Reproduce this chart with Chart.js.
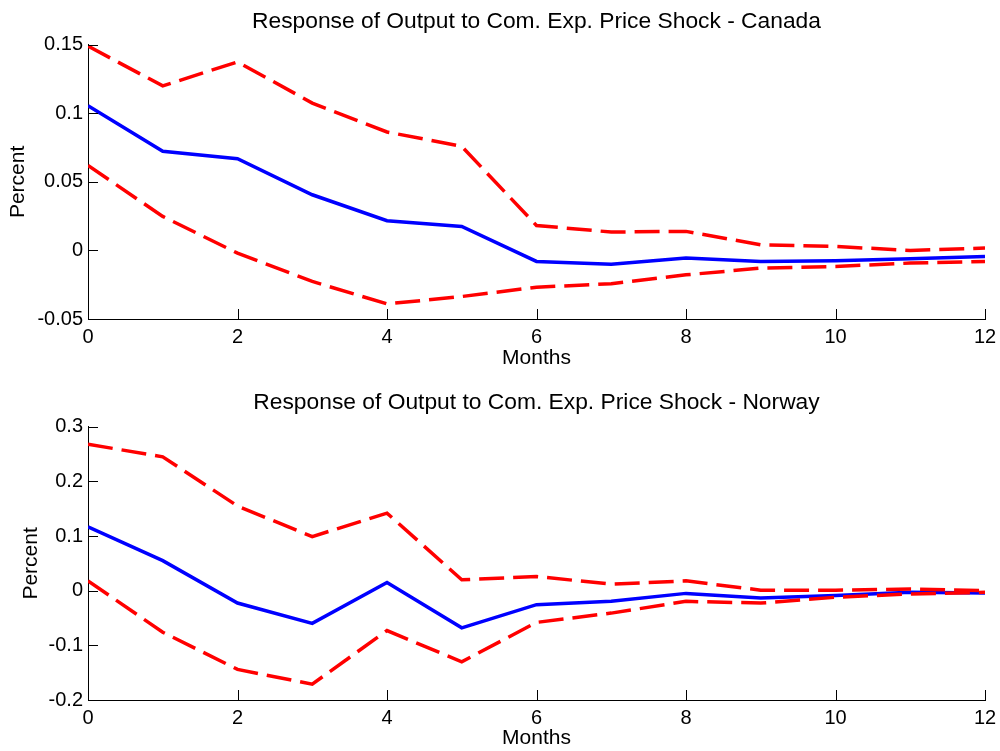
<!DOCTYPE html>
<html>
<head>
<meta charset="utf-8">
<script src="https://cdn.jsdelivr.net/npm/chart.js@4.4.1/dist/chart.umd.min.js"></script>
<style>
  html, body { margin: 0; padding: 0; background: #fff; }
  #wrap { position: relative; width: 1000px; height: 751px; }
  canvas { position: absolute; left: 0; }
</style>
</head>
<body>
<div id="wrap">
  <canvas id="canada" width="1000" height="375" style="top:0"></canvas>
  <canvas id="norway" width="1000" height="375" style="top:376px"></canvas>
</div>
<script>
// months after the shock
const months = [0, 1, 2, 3, 4, 5, 6, 7, 8, 9, 10, 11, 12];

// Canada: impulse response and bands
const canadaResp  = [0.1056, 0.0723, 0.0669, 0.0406, 0.0217, 0.0175, -0.0080, -0.0100, -0.0056, -0.0080, -0.0075, -0.0060, -0.0044];
const canadaUpper = [0.1490, 0.1200, 0.1375, 0.1075, 0.0864, 0.0759, 0.0182, 0.0134, 0.0139, 0.0041, 0.0029, 0.0000, 0.0017];
const canadaLower = [0.0620, 0.0248, -0.0020, -0.0226, -0.0390, -0.0336, -0.0268, -0.0243, -0.0178, -0.0129, -0.0117, -0.0092, -0.0080];

// Norway: impulse response and bands
const norwayResp  = [0.117, 0.055, -0.0226, -0.0598, 0.0152, -0.068, -0.0256, -0.0195, -0.0049, -0.0134, -0.009, -0.003, -0.004];
const norwayUpper = [0.268, 0.245, 0.155, 0.099, 0.142, 0.020, 0.026, 0.012, 0.018, 0.001, 0.001, 0.003, 0.000];
const norwayLower = [0.018, -0.076, -0.144, -0.171, -0.073, -0.130, -0.058, -0.041, -0.0195, -0.0226, -0.012, -0.006, -0.003];

// axis limits / steps
const canadaTicks = { min: -0.05, max: 0.15, step: 0.05 };
const norwayTicks = { min: -0.2, max: 0.3, step: 0.1 };
const monthTicks = { min: 0, max: 12, step: 2 };

Chart.defaults.font.family = "'Liberation Sans', Arial, Helvetica, sans-serif";
Chart.defaults.color = '#000';

// matlab style ticks that point into the plot
const inwardTicks = {
    id: 'inwardTicks',
    afterDraw(chart) {
        const ctx = chart.ctx;
        const area = chart.chartArea;
        const x = chart.scales.x, y = chart.scales.y;
        ctx.save();
        ctx.strokeStyle = '#000';
        ctx.lineWidth = 1;
        ctx.beginPath();
        x.ticks.forEach(t => {
            const px = Math.round(x.getPixelForValue(t.value)) + 0.5;
            ctx.moveTo(px, area.bottom);
            ctx.lineTo(px, area.bottom - 10);
        });
        y.ticks.forEach(t => {
            const py = Math.round(y.getPixelForValue(t.value)) + 0.5;
            ctx.moveTo(area.left, py);
            ctx.lineTo(area.left + 10, py);
        });
        ctx.stroke();
        ctx.restore();
    }
};

function points(vals) {
    return months.map((m, i) => ({ x: m, y: vals[i] }));
}

function makeChart(id, title, resp, upper, lower, lim, lay) {
    const ctx = document.getElementById(id).getContext('2d');
    return new Chart(ctx, {
        type: 'line',
        data: {
            datasets: [
                { data: points(upper), borderColor: '#ff0000', borderWidth: 3.5, borderDash: [25, 9], pointRadius: 0, tension: 0 },
                { data: points(lower), borderColor: '#ff0000', borderWidth: 3.5, borderDash: [25, 9], pointRadius: 0, tension: 0 },
                { data: points(resp),  borderColor: '#0000ff', borderWidth: 3.5, pointRadius: 0, tension: 0 }
            ]
        },
        options: {
            responsive: false,
            animation: false,
            layout: { padding: { left: 0, right: 0, top: 0, bottom: 0 } },
            plugins: {
                legend: { display: false },
                tooltip: { enabled: false },
                title: {
                    display: true,
                    fullSize: false,
                    text: title,
                    color: '#000',
                    font: { size: 22.8, weight: 'normal' },
                    padding: { top: lay.titleTop, bottom: lay.titleBottom }
                }
            },
            scales: {
                x: {
                    type: 'linear',
                    min: monthTicks.min,
                    max: monthTicks.max,
                    afterFit(s) { s.height = lay.xHeight; s.paddingLeft = 0; s.paddingRight = 15; },
                    ticks: { stepSize: monthTicks.step, font: { size: 20 }, padding: 6, maxRotation: 0 },
                    grid: { drawOnChartArea: false, drawTicks: false },
                    border: { display: true, color: '#000', width: 1 },
                    title: { display: true, text: 'Months', font: { size: 21 }, padding: { top: 0, bottom: lay.monthsPad } }
                },
                y: {
                    min: lim.min,
                    max: lim.max,
                    afterFit(s) { s.width = 88; },
                    ticks: {
                        stepSize: lim.step,
                        font: { size: 20 },
                        padding: 5,
                        callback: v => String(Number(v.toFixed(4)))
                    },
                    grid: { drawOnChartArea: false, drawTicks: false },
                    border: { display: true, color: '#000', width: 1 },
                    title: { display: true, text: 'Percent', font: { size: 21 }, padding: { top: lay.percentPad, bottom: 0 } }
                }
            }
        },
        plugins: [inwardTicks]
    });
}

makeChart('canada', 'Response of Output to Com. Exp. Price Shock - Canada',
    canadaResp, canadaUpper, canadaLower, canadaTicks,
    { titleTop: 7.9, titleBottom: 9.5, xHeight: 56, monthsPad: 4.4, percentPad: 5.4 });

makeChart('norway', 'Response of Output to Com. Exp. Price Shock - Norway',
    norwayResp, norwayUpper, norwayLower, norwayTicks,
    { titleTop: 12.9, titleBottom: 10.5, xHeight: 51, monthsPad: 0, percentPad: 18.4 });
</script>
</body>
</html>
